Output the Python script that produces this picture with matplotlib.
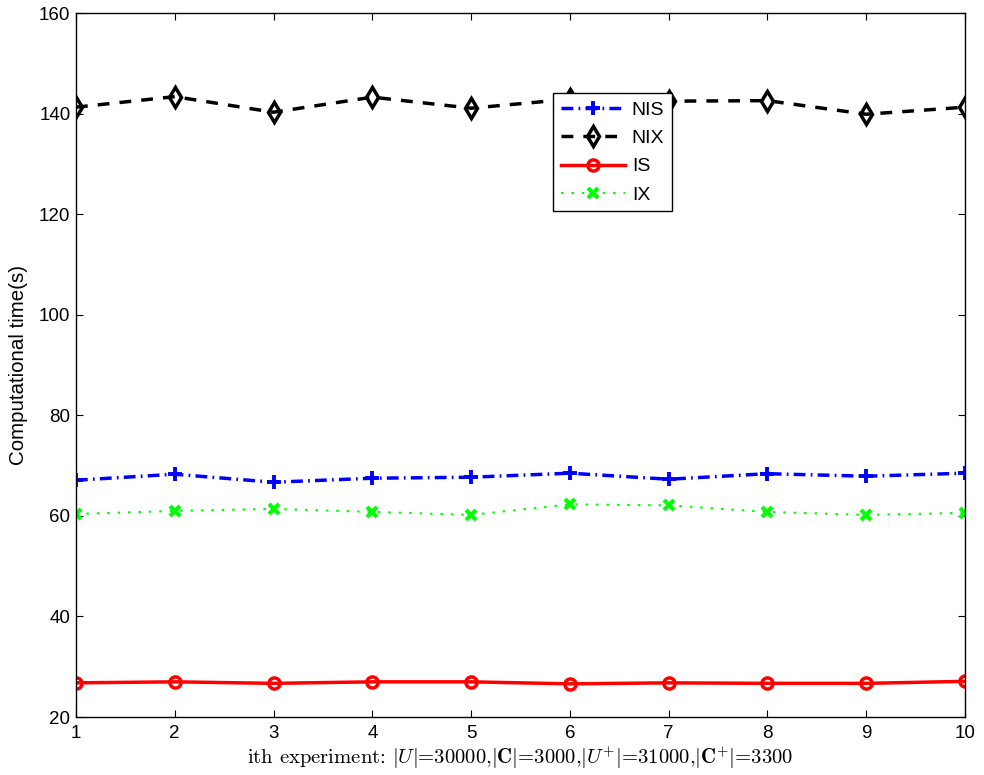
import matplotlib
matplotlib.use("Agg")
import matplotlib.pyplot as plt

x = [1, 2, 3, 4, 5, 6, 7, 8, 9, 10]
nis = [67.1, 68.3, 66.7, 67.5, 67.7, 68.5, 67.3, 68.4, 67.9, 68.5]
nix = [141.3, 143.4, 140.3, 143.3, 141.1, 142.9, 142.5, 142.6, 139.9, 141.3]
is_ = [26.8, 27.0, 26.7, 27.0, 27.0, 26.6, 26.8, 26.7, 26.7, 27.1]
ix = [60.4, 61.0, 61.4, 60.8, 60.2, 62.3, 62.1, 60.8, 60.2, 60.6]

plt.rcParams['font.family'] = ['Liberation Sans', 'DejaVu Sans']
plt.rcParams['mathtext.fontset'] = 'cm'

fig = plt.figure(figsize=(9.84, 7.75), dpi=100)
ax = fig.add_axes([0.0772, 0.0748, 0.9035, 0.9082])

l1, = ax.plot(x, nis, color='blue', linewidth=2.5, marker='+',
              markersize=10, markeredgewidth=2.8, label='NIS')
l1.set_dashes([3.4, 1.5, 0.5, 1.5])
l2, = ax.plot(x, nix, color='black', linewidth=2.5, marker='d',
              markersize=10, markerfacecolor='none', markeredgewidth=2.5, label='NIX')
l2.set_dashes([3.4, 2.9])
ax.plot(x, is_, color='red', linestyle='-', linewidth=2.5, marker='o',
        markersize=8, markerfacecolor='none', markeredgewidth=2.5, label='IS')
l4, = ax.plot(x, ix, color='#00ff00', linewidth=1.5, marker='x',
              markersize=7, markeredgewidth=3, label='IX')
l4.set_dashes([1.2, 3.8])

ax.set_xlim(1, 10)
ax.set_ylim(20, 160)
ax.set_xticks(range(1, 11))
ax.set_yticks(range(20, 161, 20))
ax.tick_params(direction='in', top=True, right=True, labelsize=13.5, length=5)
ax.tick_params(axis='x', pad=6)
ax.tick_params(axis='y', pad=4)
for s in ax.spines.values():
    s.set_linewidth(1.0)

ax.set_ylabel('Computational time(s)', fontsize=14.8, labelpad=8)
ax.set_xlabel(r'ith experiment: $|U|$=30000,$|\mathbf{C}|$=3000,$|U^{+}|$=31000,$|\mathbf{C}^{+}|$=3300',
              fontsize=14.9, labelpad=2, family='cmr10')

leg = ax.legend(loc='upper left', bbox_to_anchor=(0.5366, 0.886), fontsize=14,
                frameon=True, fancybox=False, edgecolor='black', framealpha=1,
                handlelength=3.3, borderpad=0.4, labelspacing=0.55, handletextpad=0.35,
                borderaxespad=0)
leg.get_frame().set_linewidth(1.0)

fig.savefig('out.png', dpi=100)
